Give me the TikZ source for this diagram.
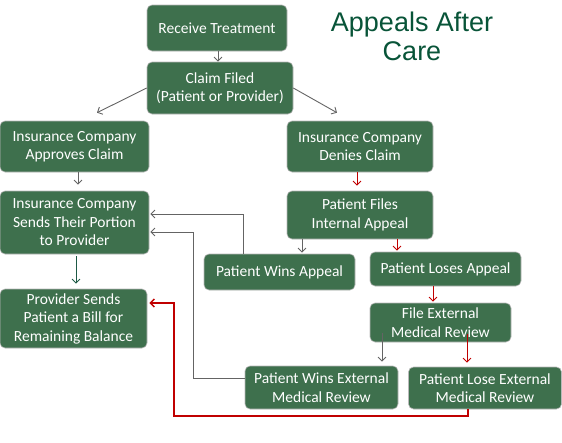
\documentclass[tikz,border=0pt]{standalone}
\usepackage{fontspec}
\setmainfont{Carlito}
\newfontfamily\titlefont{Liberation Sans}
\usetikzlibrary{arrows.meta,calc}
\definecolor{boxgreen}{RGB}{62,112,77}
\definecolor{titlegreen}{RGB}{8,84,56}
\definecolor{redline}{RGB}{192,0,0}
\definecolor{grayline}{RGB}{100,100,100}
\definecolor{tealline}{RGB}{30,90,70}
\tikzset{
  box/.style={rounded corners=5pt, fill=boxgreen, draw=gray!55, line width=0.6pt, text=white,
    font=\fontsize{15.5}{18.5}\selectfont, align=center, inner sep=0pt},
  garr/.style={draw=grayline, line width=0.9pt, -{Straight Barb[length=4pt,width=8pt]}},
  rarr/.style={draw=redline, line width=0.9pt, -{Straight Barb[length=4pt,width=8pt]}},
  rarrthick/.style={draw=redline, line width=1.5pt, -{Straight Barb[length=4pt,width=8pt]}},
  tarr/.style={draw=tealline, line width=0.9pt, -{Straight Barb[length=4pt,width=8pt]}}
}
\begin{document}
\begin{tikzpicture}[x=1pt,y=-1pt]
\useasboundingbox (0,0) rectangle (562,442);
% title
\node[text=titlegreen, font=\titlefont\fontsize{27}{29}\selectfont, align=center] (title) at (412,36) {Appeals After\\Care};
% boxes
\node[box, minimum width=140pt, minimum height=46pt] (rt) at (217,28) {Receive Treatment};
\node[box, minimum width=146pt, minimum height=52pt] (cf) at (220,88) {Claim Filed\\(Patient or Provider)};
\node[box, minimum width=149pt, minimum height=51pt] (ap) at (74.5,146.5) {Insurance Company\\Approves Claim};
\node[box, minimum width=146pt, minimum height=51pt] (dn) at (360,146.5) {Insurance Company\\Denies Claim};
\node[box, minimum width=149pt, minimum height=63pt] (se) at (74.5,222.5) {Insurance Company\\Sends Their Portion\\to Provider};
\node[box, minimum width=147pt, minimum height=59pt] (bi) at (73.5,318.5) {Provider Sends\\Patient a Bill for\\Remaining Balance};
\node[box, minimum width=146pt, minimum height=48pt] (fi) at (360,215) {Patient Files\\Internal Appeal};
\node[box, minimum width=151pt, minimum height=36pt] (wa) at (279.5,272) {Patient Wins Appeal};
\node[box, minimum width=151pt, minimum height=34pt] (la) at (445.5,269) {Patient Loses Appeal};
\node[box, minimum width=141pt, minimum height=39pt] (fe) at (440.5,322.5) {File External\\Medical Review};
\node[box, minimum width=153pt, minimum height=43pt] (we) at (321.5,387.5) {Patient Wins External\\Medical Review};
\node[box, minimum width=153pt, minimum height=42pt] (le) at (485,388) {Patient Lose External\\Medical Review};
% connectors
\draw[garr] ($(rt.south)+(1,0)$) -- ($(cf.north)+(-2,0)$);
\draw[garr] (cf.west) -- ($(ap.north)+(22.5,-8)$);
\draw[garr] (cf.east) -- ($(dn.north)+(-23,-8)$);
\draw[garr] ($(ap.south)+(3.5,0)$) -- ($(se.north)+(3.5,-6)$);
\draw[rarr] ($(dn.south)+(-3,0)$) -- ($(fi.north)+(-3,-5)$);
\draw[garr] ($(fi.south)+(-58,0)$) -- ($(wa.north)+(22.5,-1)$);
\draw[rarr] ($(fi.south)+(37,0)$) -- ($(la.north)+(-48.5,-1)$);
\draw[rarr] ($(la.south)+(-12.5,0)$) -- ($(fe.north)+(-7.5,-1)$);
\draw[garr] ($(fe.south)+(-58.5,-9)$) -- ($(we.north)+(60.5,-4)$);
\draw[rarr] ($(fe.south)+(26.5,-8)$) -- ($(le.north)+(-18,-4)$);
\draw[tarr] ($(se.south)+(1.5,2)$) -- ($(bi.north)+(2.5,-5)$);
\draw[garr] ($(wa.north)+(-36.5,0)$) |- ($(se.east)+(1,-8.5)$);
\coordinate (wejog) at (193,378);
\draw[garr] ($(we.west)+(0,-9.5)$) -- (wejog) |- ($(se.east)+(1,9.5)$);
\coordinate (lejog) at (174,416);
\draw[rarrthick] ($(le.south)+(-17,0)$) |- (lejog) |- ($(bi.east)+(2,-15.5)$);
\end{tikzpicture}
\end{document}
